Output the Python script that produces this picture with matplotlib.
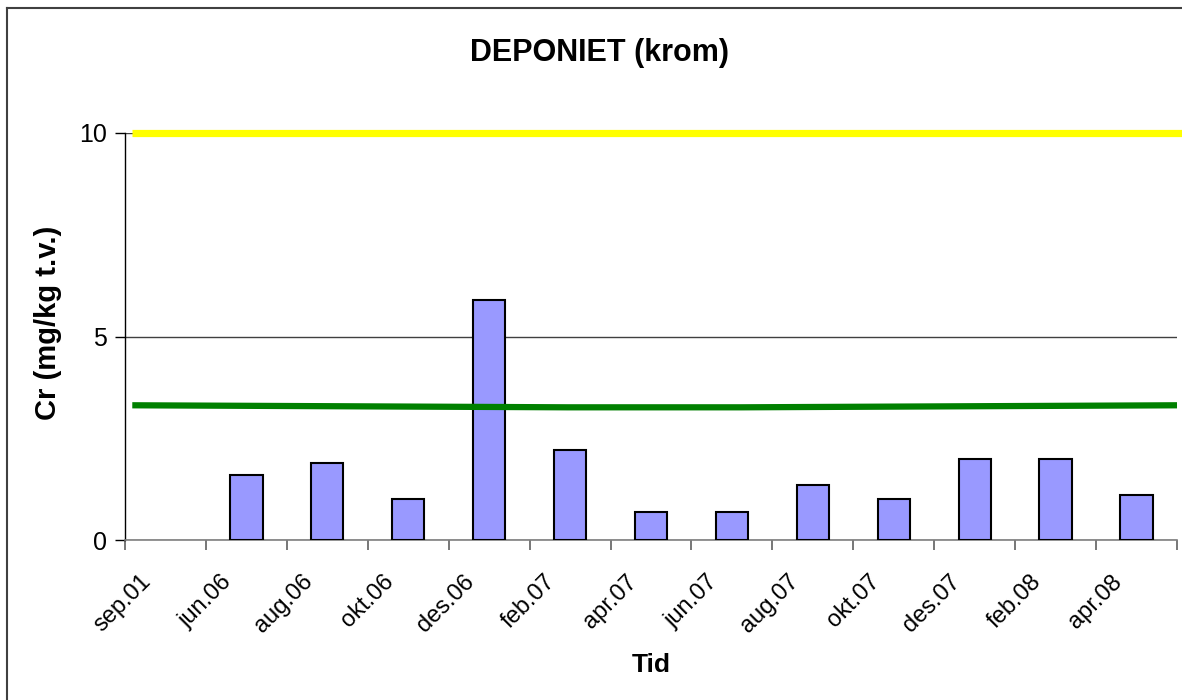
import numpy as np
import matplotlib
matplotlib.use("Agg")
import matplotlib.pyplot as plt
from matplotlib import transforms
from matplotlib.lines import Line2D

plt.rcParams['font.family'] = ['Liberation Sans', 'DejaVu Sans']

categories = ['sep.01', 'jun.06', 'aug.06', 'okt.06', 'des.06', 'feb.07', 'apr.07',
              'jun.07', 'aug.07', 'okt.07', 'des.07', 'feb.08', 'apr.08']
cr_values = [np.nan, 1.6, 1.9, 1.0, 5.9, 2.2, 0.7, 0.7, 1.35, 1.0, 2.0, 2.0, 1.1]
trend_values = [3.31, 3.30, 3.29, 3.28, 3.27, 3.26, 3.26, 3.26, 3.27, 3.28, 3.29, 3.30, 3.31]
limit_value = 10
yticks = [0, 5, 10]

fig = plt.figure(figsize=(11.82, 7), dpi=100)
ax = fig.add_axes([125 / 1182, 160 / 700, 1052 / 1182, 407 / 700])

n = len(categories)
x = np.arange(n) + 0.5
ax.bar(x, cr_values, width=0.4, color='#9999FF', edgecolor='black', linewidth=1.5, zorder=3)

# trend line and limit line spanning the plot
tx = np.linspace(0.09, n, n)
ax.plot(tx, trend_values, color='#008000', linewidth=4.5, zorder=4, solid_capstyle='butt')
ax.plot([0.09, n + 0.06], [limit_value, limit_value], color='#FFFF00', linewidth=5.2,
        zorder=4, clip_on=False, solid_capstyle='butt')

ax.set_xlim(0, n)
ax.set_ylim(0, 10)
ax.set_yticks(yticks)
ax.yaxis.grid(True, color='#404040', linewidth=1)
ax.set_axisbelow(True)
for s in ['top', 'right']:
    ax.spines[s].set_visible(False)
ax.spines['left'].set_linewidth(1)
ax.spines['bottom'].set_color('#808080')
ax.spines['bottom'].set_linewidth(1.2)

ax.set_xticks(np.arange(n + 1))
ax.set_xticklabels([])
ax.tick_params(axis='x', length=7, color='#606060', width=1.2)
ax.set_xticks(x, minor=True)
ax.set_xticklabels(categories, minor=True, rotation=45, ha='right', va='top', fontsize=17)
ax.tick_params(axis='x', which='minor', length=0, pad=22)
offset = transforms.ScaledTranslation(-10 / 100, 0, fig.dpi_scale_trans)
for lab in ax.get_xticklabels(minor=True):
    lab.set_transform(lab.get_transform() + offset)

ax.tick_params(axis='y', length=7, width=1, labelsize=18, pad=6)

fig.text(600 / 1182, 1 - 53 / 700, 'DEPONIET (krom)', ha='center', va='center',
         fontsize=22, fontweight='bold')
fig.text(651 / 1182, 1 - 665 / 700, 'Tid', ha='center', va='center',
         fontsize=19, fontweight='bold')
fig.text(48 / 1182, 1 - 323 / 700, 'Cr (mg/kg t.v.)', ha='center', va='center',
         rotation=90, fontsize=21, fontweight='bold')

# outer chart border (left and top edges visible)
fig.add_artist(Line2D([7 / 1182, 7 / 1182], [0, 1 - 8 / 700], transform=fig.transFigure,
                      color='#404040', linewidth=1.5))
fig.add_artist(Line2D([7 / 1182, 1], [1 - 8 / 700, 1 - 8 / 700], transform=fig.transFigure,
                      color='#404040', linewidth=1.5))

fig.savefig('out.png', dpi=100)
